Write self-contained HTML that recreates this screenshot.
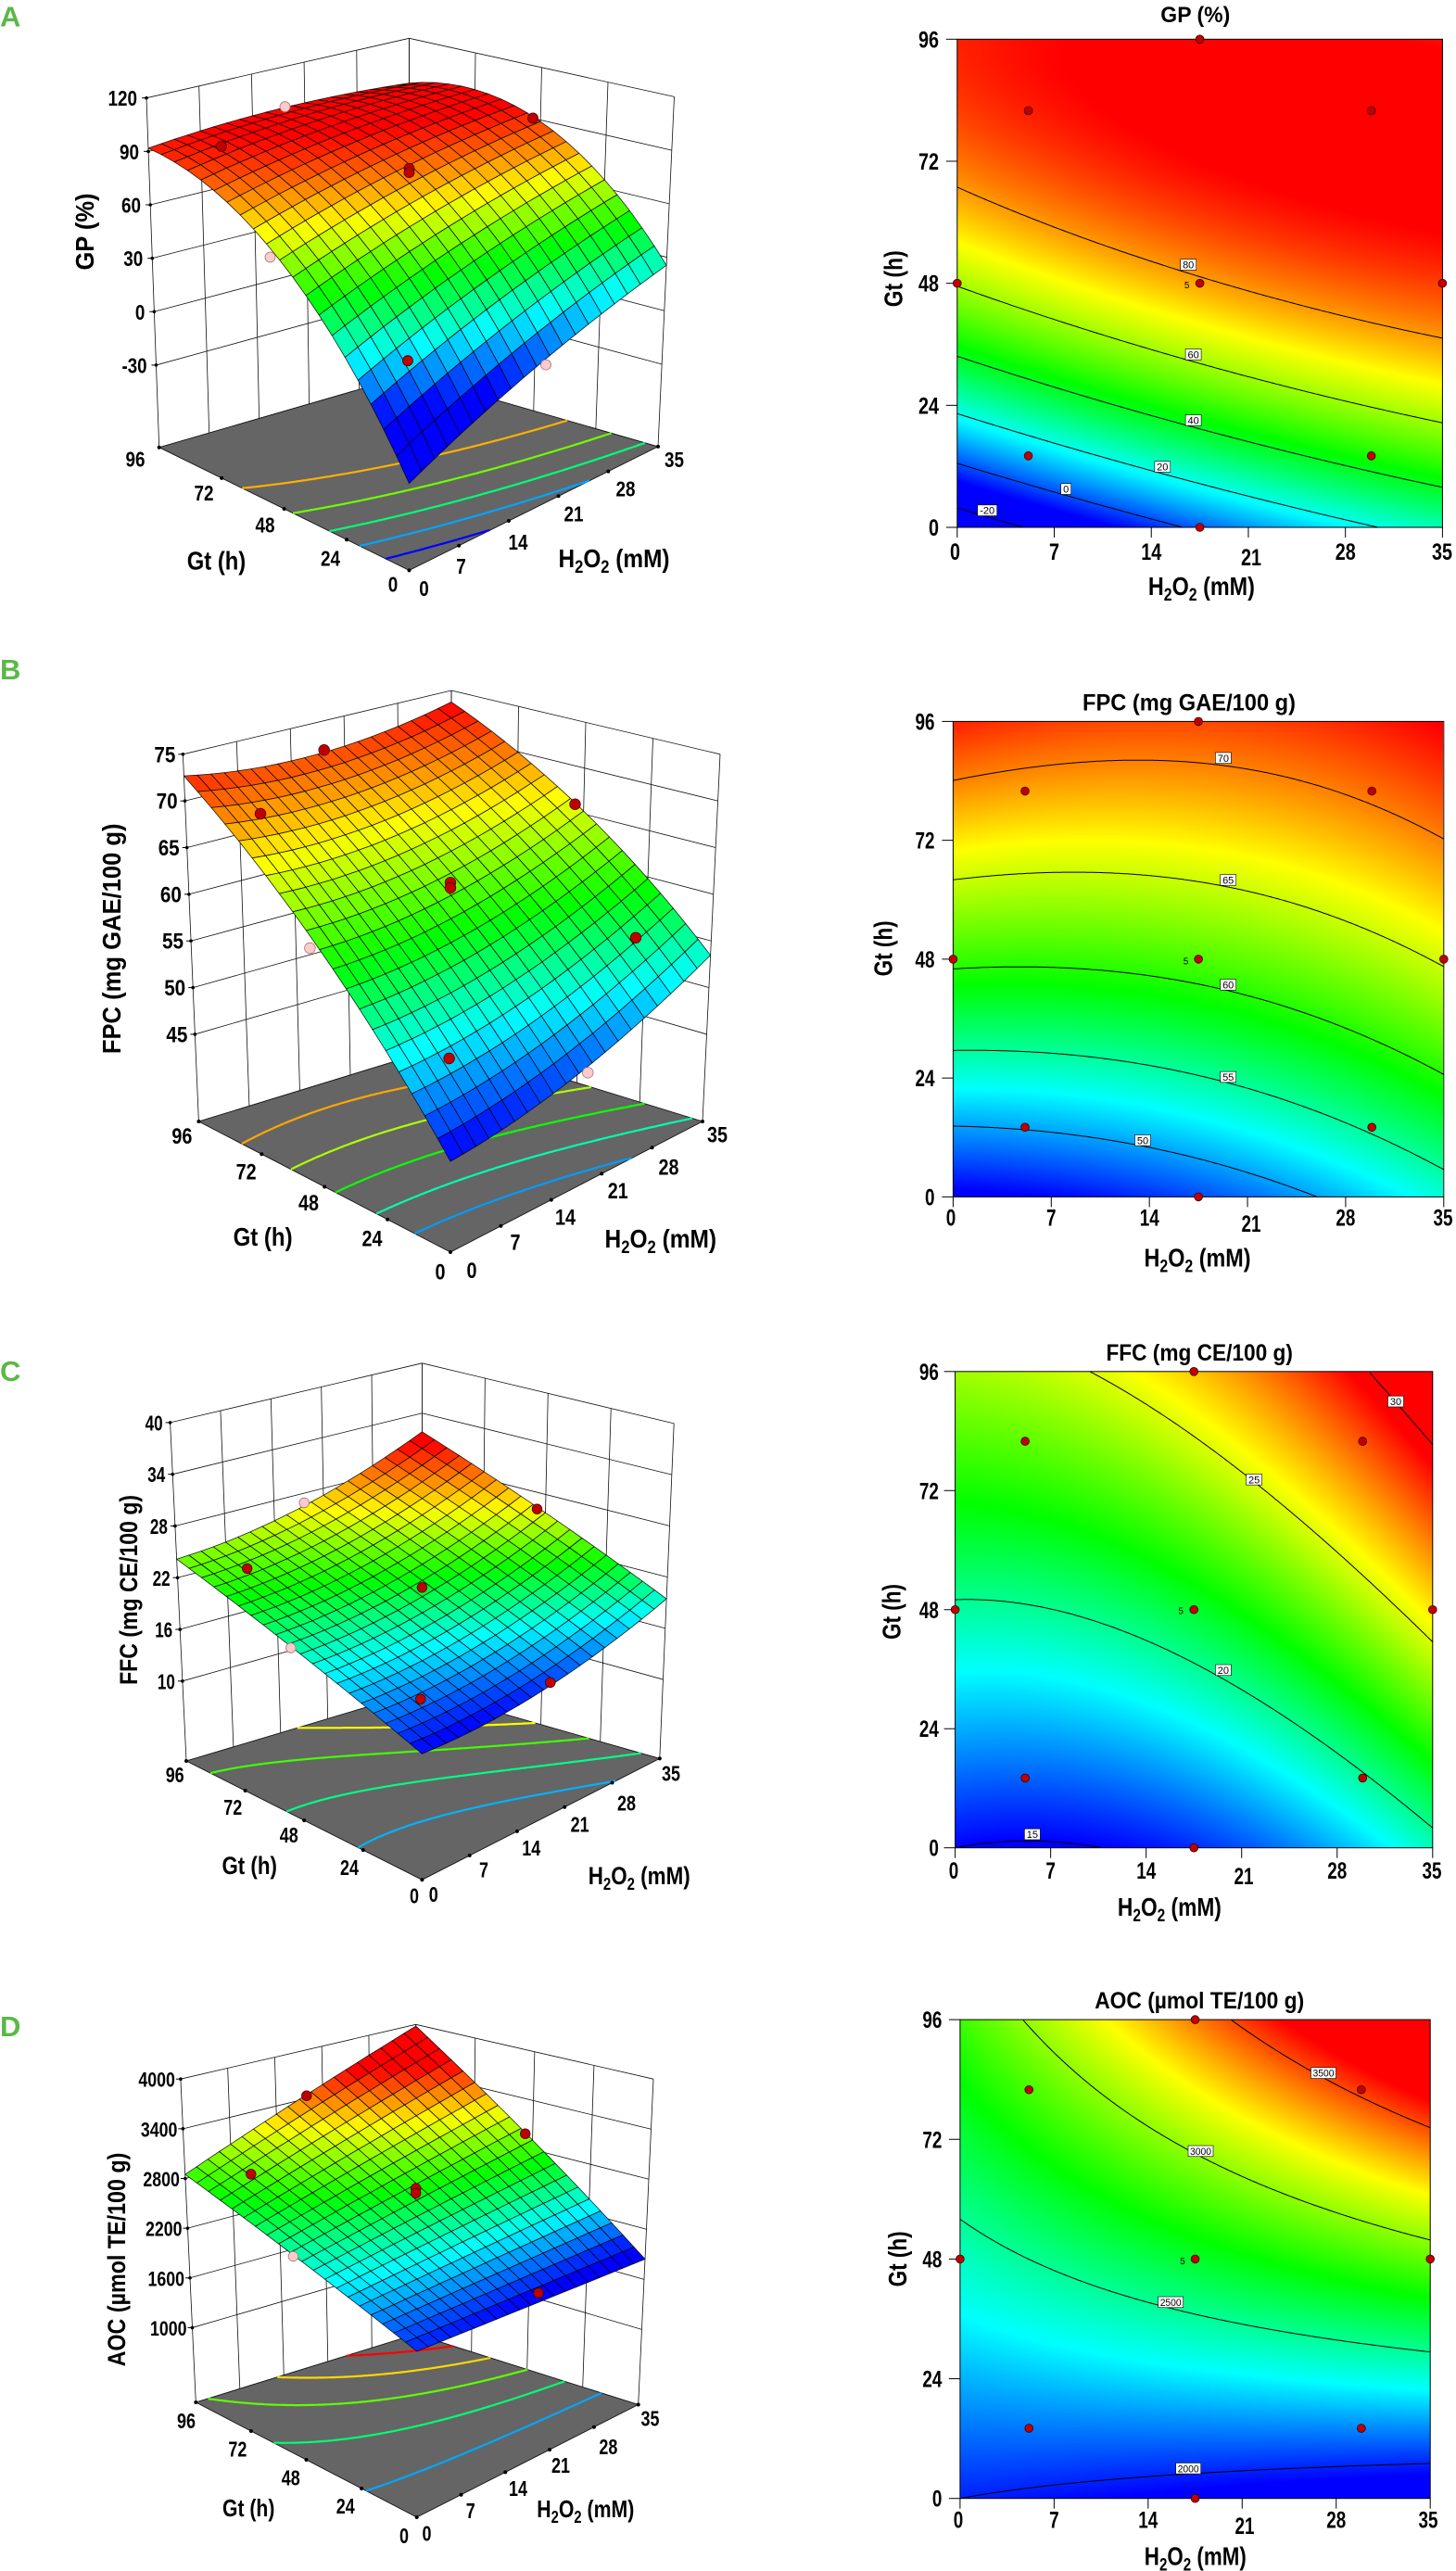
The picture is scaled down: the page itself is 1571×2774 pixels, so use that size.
<!DOCTYPE html>
<html><head><meta charset="utf-8">
<style>
html,body{margin:0;padding:0;background:#fff;}
#wrap{position:relative;width:1571px;height:2774px;overflow:hidden;background:#fff;}
canvas{position:absolute;display:block;}
#s{position:absolute;left:0;top:0;}
svg text{font-family:"Liberation Sans",Arial,sans-serif;font-weight:bold;fill:#000;}
svg text.n{font-weight:normal;}
svg text.lt{font-weight:bold;fill:#5cb848;font-size:31px;}
</style></head><body><div id="wrap">
<canvas id="cA"></canvas><canvas id="cB"></canvas><canvas id="cC"></canvas><canvas id="cD"></canvas>
<svg id="s" width="1571" height="2774" viewBox="0 0 1571 2774" xmlns="http://www.w3.org/2000/svg">
<g id="g3A"></g><g id="g3B"></g><g id="g3C"></g><g id="g3D"></g>
<g id="gcA"></g><g id="gcB"></g><g id="gcC"></g><g id="gcD"></g>

<!-- 3D data points -->
<g stroke="#4a0000" stroke-width="0.8" fill="#c00000">
<circle cx="239" cy="157.9" r="5.5"/><circle cx="441.5" cy="181.8" r="5.5"/><circle cx="441.5" cy="186.1" r="5.5"/><circle cx="575" cy="127.4" r="5.5"/><circle cx="440" cy="389.2" r="5.5"/>
<circle cx="349.7" cy="809.2" r="5.8"/><circle cx="281" cy="878" r="5.8"/><circle cx="486" cy="952.3" r="5.8"/><circle cx="486" cy="958" r="5.8"/><circle cx="620.5" cy="867.7" r="5.8"/><circle cx="686" cy="1011.8" r="5.8"/><circle cx="484.6" cy="1142" r="5.8"/>
<circle cx="266.7" cy="1692.3" r="5.3"/><circle cx="455.4" cy="1712.8" r="5.3"/><circle cx="579.5" cy="1628.2" r="5.3"/><circle cx="453.8" cy="1833.3" r="5.3"/><circle cx="593.8" cy="1815.4" r="5.3"/>
<circle cx="330.8" cy="2261.2" r="5.3"/><circle cx="270.8" cy="2345.8" r="5.3"/><circle cx="448.7" cy="2361.2" r="5.3"/><circle cx="448.7" cy="2366.3" r="5.3"/><circle cx="566.7" cy="2302.2" r="5.3"/><circle cx="581" cy="2474" r="5.3"/>
</g>
<g stroke="#b07070" stroke-width="0.8" fill="#f8cccc">
<circle cx="307.5" cy="115.2" r="5.5"/><circle cx="291.5" cy="277.5" r="5.5"/><circle cx="589" cy="393.6" r="5.5"/>
<circle cx="334.4" cy="1023" r="5.8"/><circle cx="634.3" cy="1157.4" r="5.8"/>
<circle cx="328.2" cy="1621.5" r="5.3"/><circle cx="313.8" cy="1778" r="5.3"/>
<circle cx="316.4" cy="2434.5" r="5.3"/>
</g>

<!-- contour label boxes -->
<g fill="#fff" stroke="#000" stroke-width="0.6">
<rect x="1273.7" y="279.75" width="17" height="11.7"/><rect x="1279.1" y="376.55" width="17" height="11.7"/><rect x="1279.1" y="447.55" width="17" height="11.7"/><rect x="1245.8" y="497.75" width="17" height="11.7"/><rect x="1144.7" y="521.75" width="11" height="11.7"/><rect x="1054.7" y="544.85" width="21" height="11.7"/>
<rect x="1311.4" y="811.95" width="17" height="11.7"/><rect x="1316.7" y="943.55" width="17" height="11.7"/><rect x="1316.7" y="1056.55" width="17" height="11.7"/><rect x="1316.7" y="1156.15" width="17" height="11.7"/><rect x="1224.5" y="1224.45" width="17" height="11.7"/>
<rect x="1497.5" y="1506.25" width="17" height="11.7"/><rect x="1344.6" y="1590.45" width="17" height="11.7"/><rect x="1311.4" y="1796.05" width="17" height="11.7"/><rect x="1105.4" y="1973.25" width="17" height="11.7"/>
<rect x="1414.5" y="2230.85" width="27" height="11.7"/><rect x="1282" y="2315.05" width="27" height="11.7"/><rect x="1249.7" y="2478.05" width="27" height="11.7"/><rect x="1268.7" y="2657.45" width="27" height="11.7"/>
</g>
<g font-size="11" text-anchor="middle">
<text class="n" x="1282.2" y="289.6">80</text><text class="n" x="1287.6" y="386.4">60</text><text class="n" x="1287.6" y="457.4">40</text><text class="n" x="1254.3" y="507.6">20</text><text class="n" x="1150.2" y="531.6">0</text><text class="n" x="1065.2" y="554.7">-20</text>
<text class="n" x="1319.9" y="821.8">70</text><text class="n" x="1325.2" y="953.4">65</text><text class="n" x="1325.2" y="1066.4">60</text><text class="n" x="1325.2" y="1166">55</text><text class="n" x="1233" y="1234.3">50</text>
<text class="n" x="1506" y="1516.1">30</text><text class="n" x="1353.1" y="1600.3">25</text><text class="n" x="1319.9" y="1805.9">20</text><text class="n" x="1113.9" y="1983.1">15</text>
<text class="n" x="1428" y="2240.7" textLength="23" lengthAdjust="spacingAndGlyphs">3500</text><text class="n" x="1295.5" y="2324.9" textLength="23" lengthAdjust="spacingAndGlyphs">3000</text><text class="n" x="1263.2" y="2487.9" textLength="23" lengthAdjust="spacingAndGlyphs">2500</text><text class="n" x="1282.2" y="2667.3" textLength="23" lengthAdjust="spacingAndGlyphs">2000</text>
</g>
<g font-size="10" text-anchor="middle">
<text class="n" x="1280.7" y="311">5</text><text class="n" x="1279.5" y="1040.3">5</text><text class="n" x="1274.2" y="1741.6">5</text><text class="n" x="1276" y="2443.2">5</text>
</g>

<!-- panel letters -->
<text class="lt" x="0" y="28.5">A</text>
<text class="lt" x="0" y="733">B</text>
<text class="lt" x="0" y="1490">C</text>
<text class="lt" x="0" y="2197">D</text>

<!-- ===== A 3D ===== -->
<g font-size="23" text-anchor="end">
<text x="148" y="114.2" textLength="31.5" lengthAdjust="spacingAndGlyphs">120</text>
<text x="150" y="171.9" textLength="21" lengthAdjust="spacingAndGlyphs">90</text>
<text x="152" y="229.5" textLength="21" lengthAdjust="spacingAndGlyphs">60</text>
<text x="154.3" y="287.1" textLength="21" lengthAdjust="spacingAndGlyphs">30</text>
<text x="156.4" y="344.8" textLength="10.5" lengthAdjust="spacingAndGlyphs">0</text>
<text x="158.5" y="402.4" textLength="27" lengthAdjust="spacingAndGlyphs">-30</text>
</g>
<g font-size="23" text-anchor="middle">
<text x="146" y="503.7" textLength="21" lengthAdjust="spacingAndGlyphs">96</text>
<text x="220" y="540" textLength="21" lengthAdjust="spacingAndGlyphs">72</text>
<text x="286" y="574.7" textLength="21" lengthAdjust="spacingAndGlyphs">48</text>
<text x="356.5" y="610.3" textLength="21" lengthAdjust="spacingAndGlyphs">24</text>
<text x="424" y="638.6" textLength="10.5" lengthAdjust="spacingAndGlyphs">0</text>
<text x="457.5" y="643" textLength="10.5" lengthAdjust="spacingAndGlyphs">0</text>
<text x="497.5" y="619" textLength="10.5" lengthAdjust="spacingAndGlyphs">7</text>
<text x="559" y="593" textLength="21" lengthAdjust="spacingAndGlyphs">14</text>
<text x="619" y="562.5" textLength="21" lengthAdjust="spacingAndGlyphs">21</text>
<text x="675" y="535.5" textLength="21" lengthAdjust="spacingAndGlyphs">28</text>
<text x="727.5" y="503.8" textLength="21" lengthAdjust="spacingAndGlyphs">35</text>
</g>
<text x="233.5" y="614.5" font-size="28" text-anchor="middle" textLength="63.5" lengthAdjust="spacingAndGlyphs">Gt (h)</text>
<text x="662.5" y="612" font-size="28" text-anchor="middle" textLength="120" lengthAdjust="spacingAndGlyphs">H<tspan font-size="19" dy="6">2</tspan><tspan dy="-6">O</tspan><tspan font-size="19" dy="6">2</tspan><tspan dy="-6"> (mM)</tspan></text>
<text transform="translate(101,250) rotate(-90)" font-size="28" text-anchor="middle" textLength="83" lengthAdjust="spacingAndGlyphs">GP (%)</text>

<!-- ===== A contour ===== -->
<text x="1289.8" y="24" font-size="24" text-anchor="middle" textLength="75" lengthAdjust="spacingAndGlyphs">GP (%)</text>
<g font-size="25" text-anchor="end">
<text x="1013" y="51.3" textLength="22" lengthAdjust="spacingAndGlyphs">96</text>
<text x="1013" y="183" textLength="22" lengthAdjust="spacingAndGlyphs">72</text>
<text x="1013" y="314.6" textLength="22" lengthAdjust="spacingAndGlyphs">48</text>
<text x="1013" y="446.3" textLength="22" lengthAdjust="spacingAndGlyphs">24</text>
<text x="1013" y="578" textLength="11" lengthAdjust="spacingAndGlyphs">0</text>
</g>
<g font-size="25" text-anchor="middle">
<text x="1030.5" y="604" textLength="11" lengthAdjust="spacingAndGlyphs">0</text>
<text x="1137.5" y="604" textLength="11" lengthAdjust="spacingAndGlyphs">7</text>
<text x="1242.2" y="604" textLength="22" lengthAdjust="spacingAndGlyphs">14</text>
<text x="1350" y="610" textLength="22" lengthAdjust="spacingAndGlyphs">21</text>
<text x="1451.7" y="604" textLength="22" lengthAdjust="spacingAndGlyphs">28</text>
<text x="1556" y="604" textLength="22" lengthAdjust="spacingAndGlyphs">35</text>
</g>
<text x="1296.4" y="641.8" font-size="28" text-anchor="middle" textLength="115" lengthAdjust="spacingAndGlyphs">H<tspan font-size="19" dy="6">2</tspan><tspan dy="-6">O</tspan><tspan font-size="19" dy="6">2</tspan><tspan dy="-6"> (mM)</tspan></text>
<text transform="translate(973.7,300.8) rotate(-90)" font-size="28" text-anchor="middle" textLength="61" lengthAdjust="spacingAndGlyphs">Gt (h)</text>

<!-- ===== B 3D ===== -->
<g font-size="24" text-anchor="end">
<text x="189.4" y="822.3" textLength="23" lengthAdjust="spacingAndGlyphs">75</text>
<text x="191.6" y="872.7" textLength="23" lengthAdjust="spacingAndGlyphs">70</text>
<text x="193.7" y="923" textLength="23" lengthAdjust="spacingAndGlyphs">65</text>
<text x="195.9" y="973.4" textLength="23" lengthAdjust="spacingAndGlyphs">60</text>
<text x="198" y="1023.7" textLength="23" lengthAdjust="spacingAndGlyphs">55</text>
<text x="200.2" y="1074.1" textLength="23" lengthAdjust="spacingAndGlyphs">50</text>
<text x="202.4" y="1124.4" textLength="23" lengthAdjust="spacingAndGlyphs">45</text>
</g>
<g font-size="24" text-anchor="middle">
<text x="196.4" y="1234.1" textLength="22" lengthAdjust="spacingAndGlyphs">96</text>
<text x="265.6" y="1272.5" textLength="22" lengthAdjust="spacingAndGlyphs">72</text>
<text x="333" y="1306" textLength="22" lengthAdjust="spacingAndGlyphs">48</text>
<text x="401.5" y="1344.5" textLength="22" lengthAdjust="spacingAndGlyphs">24</text>
<text x="475" y="1380.3" textLength="11" lengthAdjust="spacingAndGlyphs">0</text>
<text x="509" y="1379.2" textLength="11" lengthAdjust="spacingAndGlyphs">0</text>
<text x="556" y="1348.5" textLength="11" lengthAdjust="spacingAndGlyphs">7</text>
<text x="610" y="1321.3" textLength="22" lengthAdjust="spacingAndGlyphs">14</text>
<text x="666.7" y="1293.1" textLength="22" lengthAdjust="spacingAndGlyphs">21</text>
<text x="721.5" y="1267.5" textLength="22" lengthAdjust="spacingAndGlyphs">28</text>
<text x="774" y="1232.5" textLength="22" lengthAdjust="spacingAndGlyphs">35</text>
</g>
<text x="283.6" y="1344" font-size="28" text-anchor="middle" textLength="64" lengthAdjust="spacingAndGlyphs">Gt (h)</text>
<text x="712.8" y="1346" font-size="28" text-anchor="middle" textLength="120.5" lengthAdjust="spacingAndGlyphs">H<tspan font-size="19" dy="6">2</tspan><tspan dy="-6">O</tspan><tspan font-size="19" dy="6">2</tspan><tspan dy="-6"> (mM)</tspan></text>
<text transform="translate(130,1012.8) rotate(-90)" font-size="28" text-anchor="middle" textLength="248.7" lengthAdjust="spacingAndGlyphs">FPC (mg GAE/100 g)</text>

<!-- ===== B contour ===== -->
<text x="1283" y="766.5" font-size="25" text-anchor="middle" textLength="230" lengthAdjust="spacingAndGlyphs">FPC (mg GAE/100 g)</text>
<g font-size="25" text-anchor="end">
<text x="1008.5" y="787.4" textLength="21" lengthAdjust="spacingAndGlyphs">96</text>
<text x="1008.5" y="915.7" textLength="21" lengthAdjust="spacingAndGlyphs">72</text>
<text x="1008.5" y="1043.9" textLength="21" lengthAdjust="spacingAndGlyphs">48</text>
<text x="1008.5" y="1172.2" textLength="21" lengthAdjust="spacingAndGlyphs">24</text>
<text x="1008.5" y="1300.4" textLength="10.5" lengthAdjust="spacingAndGlyphs">0</text>
</g>
<g font-size="25" text-anchor="middle">
<text x="1026" y="1322.4" textLength="10.5" lengthAdjust="spacingAndGlyphs">0</text>
<text x="1134.3" y="1322.4" textLength="10.5" lengthAdjust="spacingAndGlyphs">7</text>
<text x="1240.2" y="1322.4" textLength="21" lengthAdjust="spacingAndGlyphs">14</text>
<text x="1350" y="1329" textLength="21" lengthAdjust="spacingAndGlyphs">21</text>
<text x="1451.9" y="1322.4" textLength="21" lengthAdjust="spacingAndGlyphs">28</text>
<text x="1557" y="1322.4" textLength="21" lengthAdjust="spacingAndGlyphs">35</text>
</g>
<text x="1292" y="1366.7" font-size="28" text-anchor="middle" textLength="115" lengthAdjust="spacingAndGlyphs">H<tspan font-size="19" dy="6">2</tspan><tspan dy="-6">O</tspan><tspan font-size="19" dy="6">2</tspan><tspan dy="-6"> (mM)</tspan></text>
<text transform="translate(962.6,1023.4) rotate(-90)" font-size="28" text-anchor="middle" textLength="60" lengthAdjust="spacingAndGlyphs">Gt (h)</text>

<!-- ===== C 3D ===== -->
<g font-size="23" text-anchor="end">
<text x="175.6" y="1543.4" textLength="19" lengthAdjust="spacingAndGlyphs">40</text>
<text x="178.3" y="1599.2" textLength="19" lengthAdjust="spacingAndGlyphs">34</text>
<text x="180.9" y="1655" textLength="19" lengthAdjust="spacingAndGlyphs">28</text>
<text x="183.6" y="1710.8" textLength="19" lengthAdjust="spacingAndGlyphs">22</text>
<text x="186.2" y="1766.5" textLength="19" lengthAdjust="spacingAndGlyphs">16</text>
<text x="188.9" y="1822.3" textLength="19" lengthAdjust="spacingAndGlyphs">10</text>
</g>
<g font-size="23" text-anchor="middle">
<text x="188.7" y="1922.9" textLength="20" lengthAdjust="spacingAndGlyphs">96</text>
<text x="251.3" y="1958.2" textLength="20" lengthAdjust="spacingAndGlyphs">72</text>
<text x="311.8" y="1988" textLength="20" lengthAdjust="spacingAndGlyphs">48</text>
<text x="377" y="2022.9" textLength="20" lengthAdjust="spacingAndGlyphs">24</text>
<text x="447" y="2053.5" textLength="10" lengthAdjust="spacingAndGlyphs">0</text>
<text x="467.7" y="2052.1" textLength="10" lengthAdjust="spacingAndGlyphs">0</text>
<text x="522" y="2025.5" textLength="10" lengthAdjust="spacingAndGlyphs">7</text>
<text x="573.3" y="2001.8" textLength="20" lengthAdjust="spacingAndGlyphs">14</text>
<text x="625.6" y="1976.5" textLength="20" lengthAdjust="spacingAndGlyphs">21</text>
<text x="676" y="1953.5" textLength="20" lengthAdjust="spacingAndGlyphs">28</text>
<text x="724" y="1921.3" textLength="20" lengthAdjust="spacingAndGlyphs">35</text>
</g>
<text x="269.2" y="2021.8" font-size="27" text-anchor="middle" textLength="59.5" lengthAdjust="spacingAndGlyphs">Gt (h)</text>
<text x="689.7" y="2033" font-size="27" text-anchor="middle" textLength="110" lengthAdjust="spacingAndGlyphs">H<tspan font-size="18" dy="6">2</tspan><tspan dy="-6">O</tspan><tspan font-size="18" dy="6">2</tspan><tspan dy="-6"> (mM)</tspan></text>
<text transform="translate(148,1715.4) rotate(-90)" font-size="27" text-anchor="middle" textLength="205" lengthAdjust="spacingAndGlyphs">FFC (mg CE/100 g)</text>

<!-- ===== C contour ===== -->
<text x="1294.2" y="1467.8" font-size="25" text-anchor="middle" textLength="201.5" lengthAdjust="spacingAndGlyphs">FFC (mg CE/100 g)</text>
<g font-size="25" text-anchor="end">
<text x="1012.9" y="1488.8" textLength="21" lengthAdjust="spacingAndGlyphs">96</text>
<text x="1012.9" y="1617.3" textLength="21" lengthAdjust="spacingAndGlyphs">72</text>
<text x="1012.9" y="1745.8" textLength="21" lengthAdjust="spacingAndGlyphs">48</text>
<text x="1012.9" y="1874.2" textLength="21" lengthAdjust="spacingAndGlyphs">24</text>
<text x="1012.9" y="2002.7" textLength="10.5" lengthAdjust="spacingAndGlyphs">0</text>
</g>
<g font-size="25" text-anchor="middle">
<text x="1029" y="2026.9" textLength="10.5" lengthAdjust="spacingAndGlyphs">0</text>
<text x="1133.6" y="2026.9" textLength="10.5" lengthAdjust="spacingAndGlyphs">7</text>
<text x="1236.7" y="2026.9" textLength="21" lengthAdjust="spacingAndGlyphs">14</text>
<text x="1342" y="2033" textLength="21" lengthAdjust="spacingAndGlyphs">21</text>
<text x="1442.8" y="2026.9" textLength="21" lengthAdjust="spacingAndGlyphs">28</text>
<text x="1545" y="2026.9" textLength="21" lengthAdjust="spacingAndGlyphs">35</text>
</g>
<text x="1261.9" y="2066.8" font-size="28" text-anchor="middle" textLength="112" lengthAdjust="spacingAndGlyphs">H<tspan font-size="19" dy="6">2</tspan><tspan dy="-6">O</tspan><tspan font-size="19" dy="6">2</tspan><tspan dy="-6"> (mM)</tspan></text>
<text transform="translate(971.5,1739) rotate(-90)" font-size="28" text-anchor="middle" textLength="60" lengthAdjust="spacingAndGlyphs">Gt (h)</text>

<!-- ===== D 3D ===== -->
<g font-size="22" text-anchor="end">
<text x="188.9" y="2251.7" textLength="39.5" lengthAdjust="spacingAndGlyphs">4000</text>
<text x="191.4" y="2305.3" textLength="39.5" lengthAdjust="spacingAndGlyphs">3400</text>
<text x="193.9" y="2359" textLength="39.5" lengthAdjust="spacingAndGlyphs">2800</text>
<text x="196.5" y="2412.6" textLength="39.5" lengthAdjust="spacingAndGlyphs">2200</text>
<text x="199" y="2466.3" textLength="39.5" lengthAdjust="spacingAndGlyphs">1600</text>
<text x="201.5" y="2519.9" textLength="39.5" lengthAdjust="spacingAndGlyphs">1000</text>
</g>
<g font-size="23" text-anchor="middle">
<text x="201" y="2619.9" textLength="20" lengthAdjust="spacingAndGlyphs">96</text>
<text x="256.4" y="2650.5" textLength="20" lengthAdjust="spacingAndGlyphs">72</text>
<text x="313.8" y="2681.5" textLength="20" lengthAdjust="spacingAndGlyphs">48</text>
<text x="372.8" y="2712.2" textLength="20" lengthAdjust="spacingAndGlyphs">24</text>
<text x="436" y="2744" textLength="10" lengthAdjust="spacingAndGlyphs">0</text>
<text x="460.5" y="2741.5" textLength="10" lengthAdjust="spacingAndGlyphs">0</text>
<text x="507.7" y="2716.9" textLength="10" lengthAdjust="spacingAndGlyphs">7</text>
<text x="559" y="2692.8" textLength="20" lengthAdjust="spacingAndGlyphs">14</text>
<text x="605" y="2668.1" textLength="20" lengthAdjust="spacingAndGlyphs">21</text>
<text x="656.4" y="2648.1" textLength="20" lengthAdjust="spacingAndGlyphs">28</text>
<text x="701.5" y="2617.3" textLength="20" lengthAdjust="spacingAndGlyphs">35</text>
</g>
<text x="268.2" y="2714.8" font-size="26" text-anchor="middle" textLength="56.4" lengthAdjust="spacingAndGlyphs">Gt (h)</text>
<text x="631.8" y="2715.8" font-size="26" text-anchor="middle" textLength="105" lengthAdjust="spacingAndGlyphs">H<tspan font-size="18" dy="6">2</tspan><tspan dy="-6">O</tspan><tspan font-size="18" dy="6">2</tspan><tspan dy="-6"> (mM)</tspan></text>
<text transform="translate(135,2438) rotate(-90)" font-size="27" text-anchor="middle" textLength="230.8" lengthAdjust="spacingAndGlyphs">AOC (µmol TE/100 g)</text>

<!-- ===== D contour ===== -->
<text x="1294.2" y="2167.2" font-size="25" text-anchor="middle" textLength="226" lengthAdjust="spacingAndGlyphs">AOC (µmol TE/100 g)</text>
<g font-size="25" text-anchor="end">
<text x="1016.4" y="2188.1" textLength="21" lengthAdjust="spacingAndGlyphs">96</text>
<text x="1016.4" y="2317.3" textLength="21" lengthAdjust="spacingAndGlyphs">72</text>
<text x="1016.4" y="2446.4" textLength="21" lengthAdjust="spacingAndGlyphs">48</text>
<text x="1016.4" y="2575.6" textLength="21" lengthAdjust="spacingAndGlyphs">24</text>
<text x="1016.4" y="2704.7" textLength="10.5" lengthAdjust="spacingAndGlyphs">0</text>
</g>
<g font-size="25" text-anchor="middle">
<text x="1034" y="2727.6" textLength="10.5" lengthAdjust="spacingAndGlyphs">0</text>
<text x="1137.4" y="2727.6" textLength="10.5" lengthAdjust="spacingAndGlyphs">7</text>
<text x="1238.8" y="2727.6" textLength="21" lengthAdjust="spacingAndGlyphs">14</text>
<text x="1343" y="2734" textLength="21" lengthAdjust="spacingAndGlyphs">21</text>
<text x="1441.7" y="2727.6" textLength="21" lengthAdjust="spacingAndGlyphs">28</text>
<text x="1541" y="2727.6" textLength="21" lengthAdjust="spacingAndGlyphs">35</text>
</g>
<text x="1289.8" y="2767.4" font-size="28" text-anchor="middle" textLength="110" lengthAdjust="spacingAndGlyphs">H<tspan font-size="19" dy="6">2</tspan><tspan dy="-6">O</tspan><tspan font-size="19" dy="6">2</tspan><tspan dy="-6"> (mM)</tspan></text>
<text transform="translate(978,2437.4) rotate(-90)" font-size="28" text-anchor="middle" textLength="60" lengthAdjust="spacingAndGlyphs">Gt (h)</text>
</svg>
</div>
<script>
(function(){
var NS='http://www.w3.org/2000/svg';
function E(tag,a,p){var e=document.createElementNS(NS,tag);for(var k in a)e.setAttribute(k,a[k]);p.appendChild(e);return e;}
var COLS=[[0,0,255],[0,255,255],[0,255,0],[255,255,0],[255,0,0]];
function cm(v,s){if(v<=s[0])return COLS[0];if(v>=s[4])return COLS[4];
 for(var i=0;i<4;i++){if(v<=s[i+1]){var t=(v-s[i])/(s[i+1]-s[i]),a=COLS[i],b=COLS[i+1];
 return [a[0]+(b[0]-a[0])*t,a[1]+(b[1]-a[1])*t,a[2]+(b[2]-a[2])*t];}}return COLS[4];}
function rgb(c){return 'rgb('+Math.round(c[0])+','+Math.round(c[1])+','+Math.round(c[2])+')';}
function root(f,h,L){var st=1,v0=f(h,0)-L;if(v0===0)return 0;
 for(var g=st;g<=96.0001;g+=st){var v=f(h,g)-L;
  if((v0<0)!==(v<0)){var a=g-st,b=g,va=v0;for(var k=0;k<30;k++){var m=(a+b)/2,vm=f(h,m)-L;if((va<0)!==(vm<0))b=m;else{a=m;va=vm;}}return (a+b)/2;}
  v0=v;}return null;}

var PN=[
{f:function(h,g){return -29.3+2.0*h-0.0124*h*h+2.49*g-0.0157*h*g-0.0128*g*g;},s:[-8,18,43,70,95],s3:[-2,22,46,70,95],
 zmin:-76.2,zmax:120,zt:[120,90,60,30,0,-30],
 Lt:[158,105.7],Bt:[441.5,41.3],Rt:[727.5,104.4],Lf:[171.7,482.7],Ff:[441.5,615.4],Rf:[710,481.9],Bf:[441.5,404.5],
 rect:[1032.8,42.3,1556.4,569],lev:[80,60,40,20,0,-20],cv:'cA',g3:'g3A',gc:'gcA'},
{f:function(h,g){return 45+0.051*h+0.00545*h*h+0.3604*g-0.00221*h*g-0.00075*g*g;},s:[45.5,52.5,59,66.5,73.5],s3:[45.5,52.5,59,66.5,73.5],
 zmin:35.66,zmax:75,zt:[75,70,65,60,55,50,45],
 Lt:[197.4,813.8],Bt:[487,745],Rt:[777,813.8],Lf:[214.4,1210],Ff:[486,1351],Rf:[758,1210],Bf:[487,1126.4],
 rect:[1028.4,778.4,1557.8,1291.4],lev:[70,65,60,55,50],cv:'cB',g3:'g3B',gc:'gcB'},
{f:function(h,g){return 15-0.05674*h+0.005254*h*h+0.105*g-0.0001*g*g+0.00094*h*g;},s:[15,18.6,21.8,25.5,29.5],s3:[15,18.8,22.3,26.2,30.8],
 zmin:0.73,zmax:40,zt:[40,34,28,22,16,10],
 Lt:[183.6,1534.9],Bt:[455.4,1470.8],Rt:[727.2,1535.9],Lf:[201,1900],Ff:[455.4,2028.2],Rf:[711.8,1897.4],Bf:[455.4,1824],
 rect:[1030.6,1479.8,1545.8,1993.7],lev:[30,25,20,15],cv:'cC',g3:'g3C',gc:'gcC'},
{f:function(h,g){return 2000-4.5*h+9.04*g+0.383*h*g-0.002*g*g;},s:[1950,2330,2740,3200,3620],s3:[1950,2330,2740,3200,3620],
 zmin:99,zmax:4000,zt:[4000,3400,2800,2200,1600,1000],
 Lt:[194.9,2243.2],Bt:[448.7,2184.3],Rt:[705,2243.2],Lf:[211.3,2592],Ff:[449.7,2716],Rf:[688.7,2594.5],Bf:[448.7,2518.5],
 rect:[1035.9,2179.1,1543.2,2695.7],lev:[3500,3000,2500,2000],cv:'cD',g3:'g3D',gc:'gcD'}
];

function draw3(p){
 var g=document.getElementById(p.g3);
 var hL=((p.Lf[1]-p.Lt[1])+(p.Rf[1]-p.Rt[1]))/2,hB=p.Bf[1]-p.Bt[1],hF=1/(2/hL-1/hB);
 var Ft=[p.Ff[0],p.Ff[1]-hF];
 function P(h,gg,z){var u=h/35,v=gg/96,w=(z-p.zmin)/(p.zmax-p.zmin);
  function bl(F,R,L,B,k){return F[k]*(1-u)*(1-v)+R[k]*u*(1-v)+L[k]*(1-u)*v+B[k]*u*v;}
  var fx=bl(p.Ff,p.Rf,p.Lf,p.Bf,0),fy=bl(p.Ff,p.Rf,p.Lf,p.Bf,1),tx=bl(Ft,p.Rt,p.Lt,p.Bt,0),ty=bl(Ft,p.Rt,p.Lt,p.Bt,1);
  return [fx+w*(tx-fx),fy+w*(ty-fy)];}
 function ln(a,b,col,wd){E('line',{x1:a[0].toFixed(2),y1:a[1].toFixed(2),x2:b[0].toFixed(2),y2:b[1].toFixed(2),stroke:col||'#111','stroke-width':wd||0.8},g);}
 [0,7,14,21,28,35].forEach(function(h){ln(P(h,96,p.zmin),P(h,96,p.zmax));});
 [0,24,48,72,96].forEach(function(gg){ln(P(35,gg,p.zmin),P(35,gg,p.zmax));});
 p.zt.forEach(function(z){ln(P(0,96,z),P(35,96,z));ln(P(35,0,z),P(35,96,z));});
 E('polygon',{points:[p.Lf,p.Ff,p.Rf,p.Bf].map(function(q){return q.join(',');}).join(' '),fill:'#656565',stroke:'#111','stroke-width':0.9},g);
 var mn=1e9,mx=-1e9;
 for(var i=0;i<=40;i++)for(var j=0;j<=40;j++){var vv=p.f(35*i/40,96*j/40);if(vv<mn)mn=vv;if(vv>mx)mx=vv;}
 for(var k=1;k<=5;k++){var L=mn+k*(mx-mn)/6,seg=[],col=rgb(cm(L,p.s3));
  var flush=function(){if(seg.length>1)E('polyline',{points:seg.join(' '),fill:'none',stroke:col,'stroke-width':2.2},g);seg=[];};
  for(var n=0;n<=200;n++){var h=35*n/200,r=root(p.f,h,L);if(r===null){flush();}else{var q=P(h,r,p.zmin);seg.push(q[0].toFixed(1)+','+q[1].toFixed(1));}}
  flush();}
 [0,24,48,72,96].forEach(function(gg){var q=P(0,gg,p.zmin);E('circle',{cx:q[0],cy:q[1],r:2,fill:'#000'},g);});
 [7,14,21,28,35].forEach(function(h){var q=P(h,0,p.zmin);E('circle',{cx:q[0],cy:q[1],r:2,fill:'#000'},g);});
 var N=20,quads=[];
 for(var a=0;a<N;a++)for(var b=0;b<N;b++)quads.push([a,b]);
 quads.sort(function(x,y){return (y[0]+y[1])-(x[0]+x[1]);});
 var sg=E('g',{stroke:'#000','stroke-width':0.8,'stroke-opacity':0.85,'stroke-linejoin':'round'},g);
 quads.forEach(function(qd){var a=qd[0],b=qd[1];
  var h0=35*a/N,h1=35*(a+1)/N,g0=96*b/N,g1=96*(b+1)/N;
  var c=[[h0,g0],[h1,g0],[h1,g1],[h0,g1]].map(function(t){return P(t[0],t[1],p.f(t[0],t[1]));});
  var vc=p.f((h0+h1)/2,(g0+g1)/2);
  E('polygon',{points:c.map(function(q){return q[0].toFixed(1)+','+q[1].toFixed(1);}).join(' '),fill:rgb(cm(vc,p.s3))},sg);});
 p.zt.forEach(function(z){var q=P(0,96,z);E('line',{x1:q[0]-5,y1:q[1],x2:q[0],y2:q[1],stroke:'#000','stroke-width':1},g);E('circle',{cx:q[0],cy:q[1],r:1.8,fill:'#000'},g);});
}

function drawC(p){
 var x0=p.rect[0],y0=p.rect[1],x1=p.rect[2],y1=p.rect[3];
 var W=Math.round(x1-x0),Hh=Math.round(y1-y0);
 var cv=document.getElementById(p.cv);cv.width=W;cv.height=Hh;
 cv.style.left=x0+'px';cv.style.top=y0+'px';cv.style.width=W+'px';cv.style.height=Hh+'px';
 var ctx=cv.getContext('2d'),im=ctx.createImageData(W,Hh),d=im.data;
 for(var y=0;y<Hh;y++){var gg=96*(1-(y+0.5)/Hh);for(var x=0;x<W;x++){var h=35*(x+0.5)/W,c=cm(p.f(h,gg),p.s),o=(y*W+x)*4;d[o]=c[0];d[o+1]=c[1];d[o+2]=c[2];d[o+3]=255;}}
 ctx.putImageData(im,0,0);
 var g=document.getElementById(p.gc);
 function X(h){return x0+h/35*(x1-x0);} function Y(v){return y1-v/96*(y1-y0);}
 p.lev.forEach(function(L){var seg=[];
  function flush(){if(seg.length>1)E('polyline',{points:seg.join(' '),fill:'none',stroke:'#000','stroke-width':1},g);seg=[];}
  for(var k=0;k<=350;k++){var h=35*k/350,r=root(p.f,h,L);if(r===null)flush();else seg.push(X(h).toFixed(1)+','+Y(r).toFixed(1));}
  flush();});
 E('rect',{x:x0,y:y0,width:x1-x0,height:y1-y0,fill:'none',stroke:'#000','stroke-width':1},g);
 [0,7,14,21,28,35].forEach(function(h){E('line',{x1:X(h),y1:y1,x2:X(h),y2:y1+11,stroke:'#000','stroke-width':1},g);});
 [0,24,48,72,96].forEach(function(v){E('line',{x1:x0-12,y1:Y(v),x2:x0,y2:Y(v),stroke:'#000','stroke-width':1},g);});
 var pts=[[17.5,96],[5.13,81.94],[29.87,81.94],[0,48],[17.5,48],[35,48],[5.13,14.06],[29.87,14.06],[17.5,0]];
 pts.forEach(function(q){E('circle',{cx:X(q[0]),cy:Y(q[1]),r:4.4,fill:'#c00000',stroke:'#3a0000','stroke-width':0.8},g);});
}
PN.forEach(function(p){try{draw3(p);}catch(e){} try{drawC(p);}catch(e){}});
})();
</script>
</body></html>
